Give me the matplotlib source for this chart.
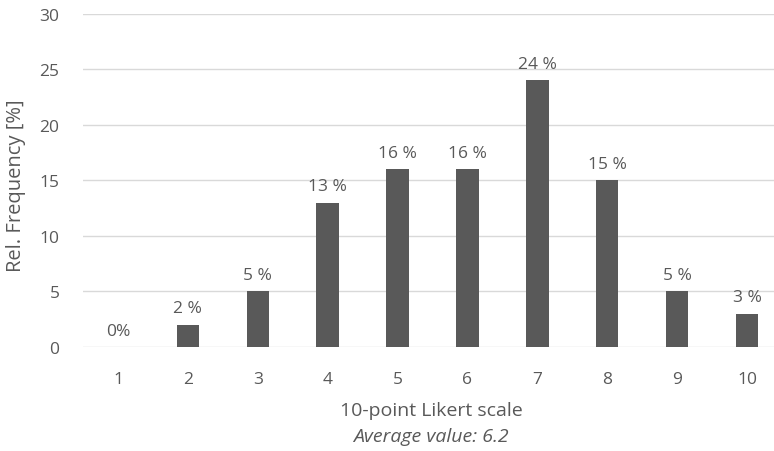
import matplotlib
matplotlib.use("Agg")
import matplotlib.pyplot as plt

categories = [1, 2, 3, 4, 5, 6, 7, 8, 9, 10]
values = [0, 2, 5, 13, 16, 16, 24, 15, 5, 3]
labels = ["0%", "2 %", "5 %", "13 %", "16 %", "16 %", "24 %", "15 %", "5 %", "3 %"]
yticks = [0, 5, 10, 15, 20, 25, 30]

plt.rcParams['font.family'] = ['Open Sans', 'DejaVu Sans']
txt = '#595959'

fig = plt.figure(figsize=(7.74, 4.52), dpi=100)
W, H = 774, 452
left, right, bottom, top = 83, 782, 348, 14.7
ax = fig.add_axes([left / W, (H - bottom) / H, (right - left) / W, (bottom - top) / H])

ax.bar(categories, values, width=0.32, color='#595959', zorder=3)
for c, v, l in zip(categories, values, labels):
    ax.annotate(l, (c, v), xytext=(0, 6), textcoords='offset points',
                ha='center', va='bottom', fontsize=12.5, color=txt)

ax.set_xlim(0.5, 10.5)
ax.set_ylim(0, 30)
ax.set_yticks(yticks)
ax.set_xticks(categories)
ax.grid(axis='y', color='#d9d9d9', linewidth=1, zorder=0)
for s in ax.spines.values():
    s.set_visible(False)
ax.tick_params(length=0, labelsize=12.5, colors=txt)
ax.tick_params(axis='x', pad=17)
ax.tick_params(axis='y', pad=17)

fig.text(16 / W, 1 - 186 / H, 'Rel. Frequency [%]', rotation=90, ha='center', va='center',
         fontsize=14.5, color=txt)
fig.text(431 / W, 1 - 411 / H, '10-point Likert scale', ha='center', va='center', fontsize=14, color=txt)
fig.text(431 / W, 1 - 437 / H, 'Average value: 6.2', ha='center', va='center', fontsize=14, color=txt, style='italic')

fig.savefig('out.png', dpi=100)
